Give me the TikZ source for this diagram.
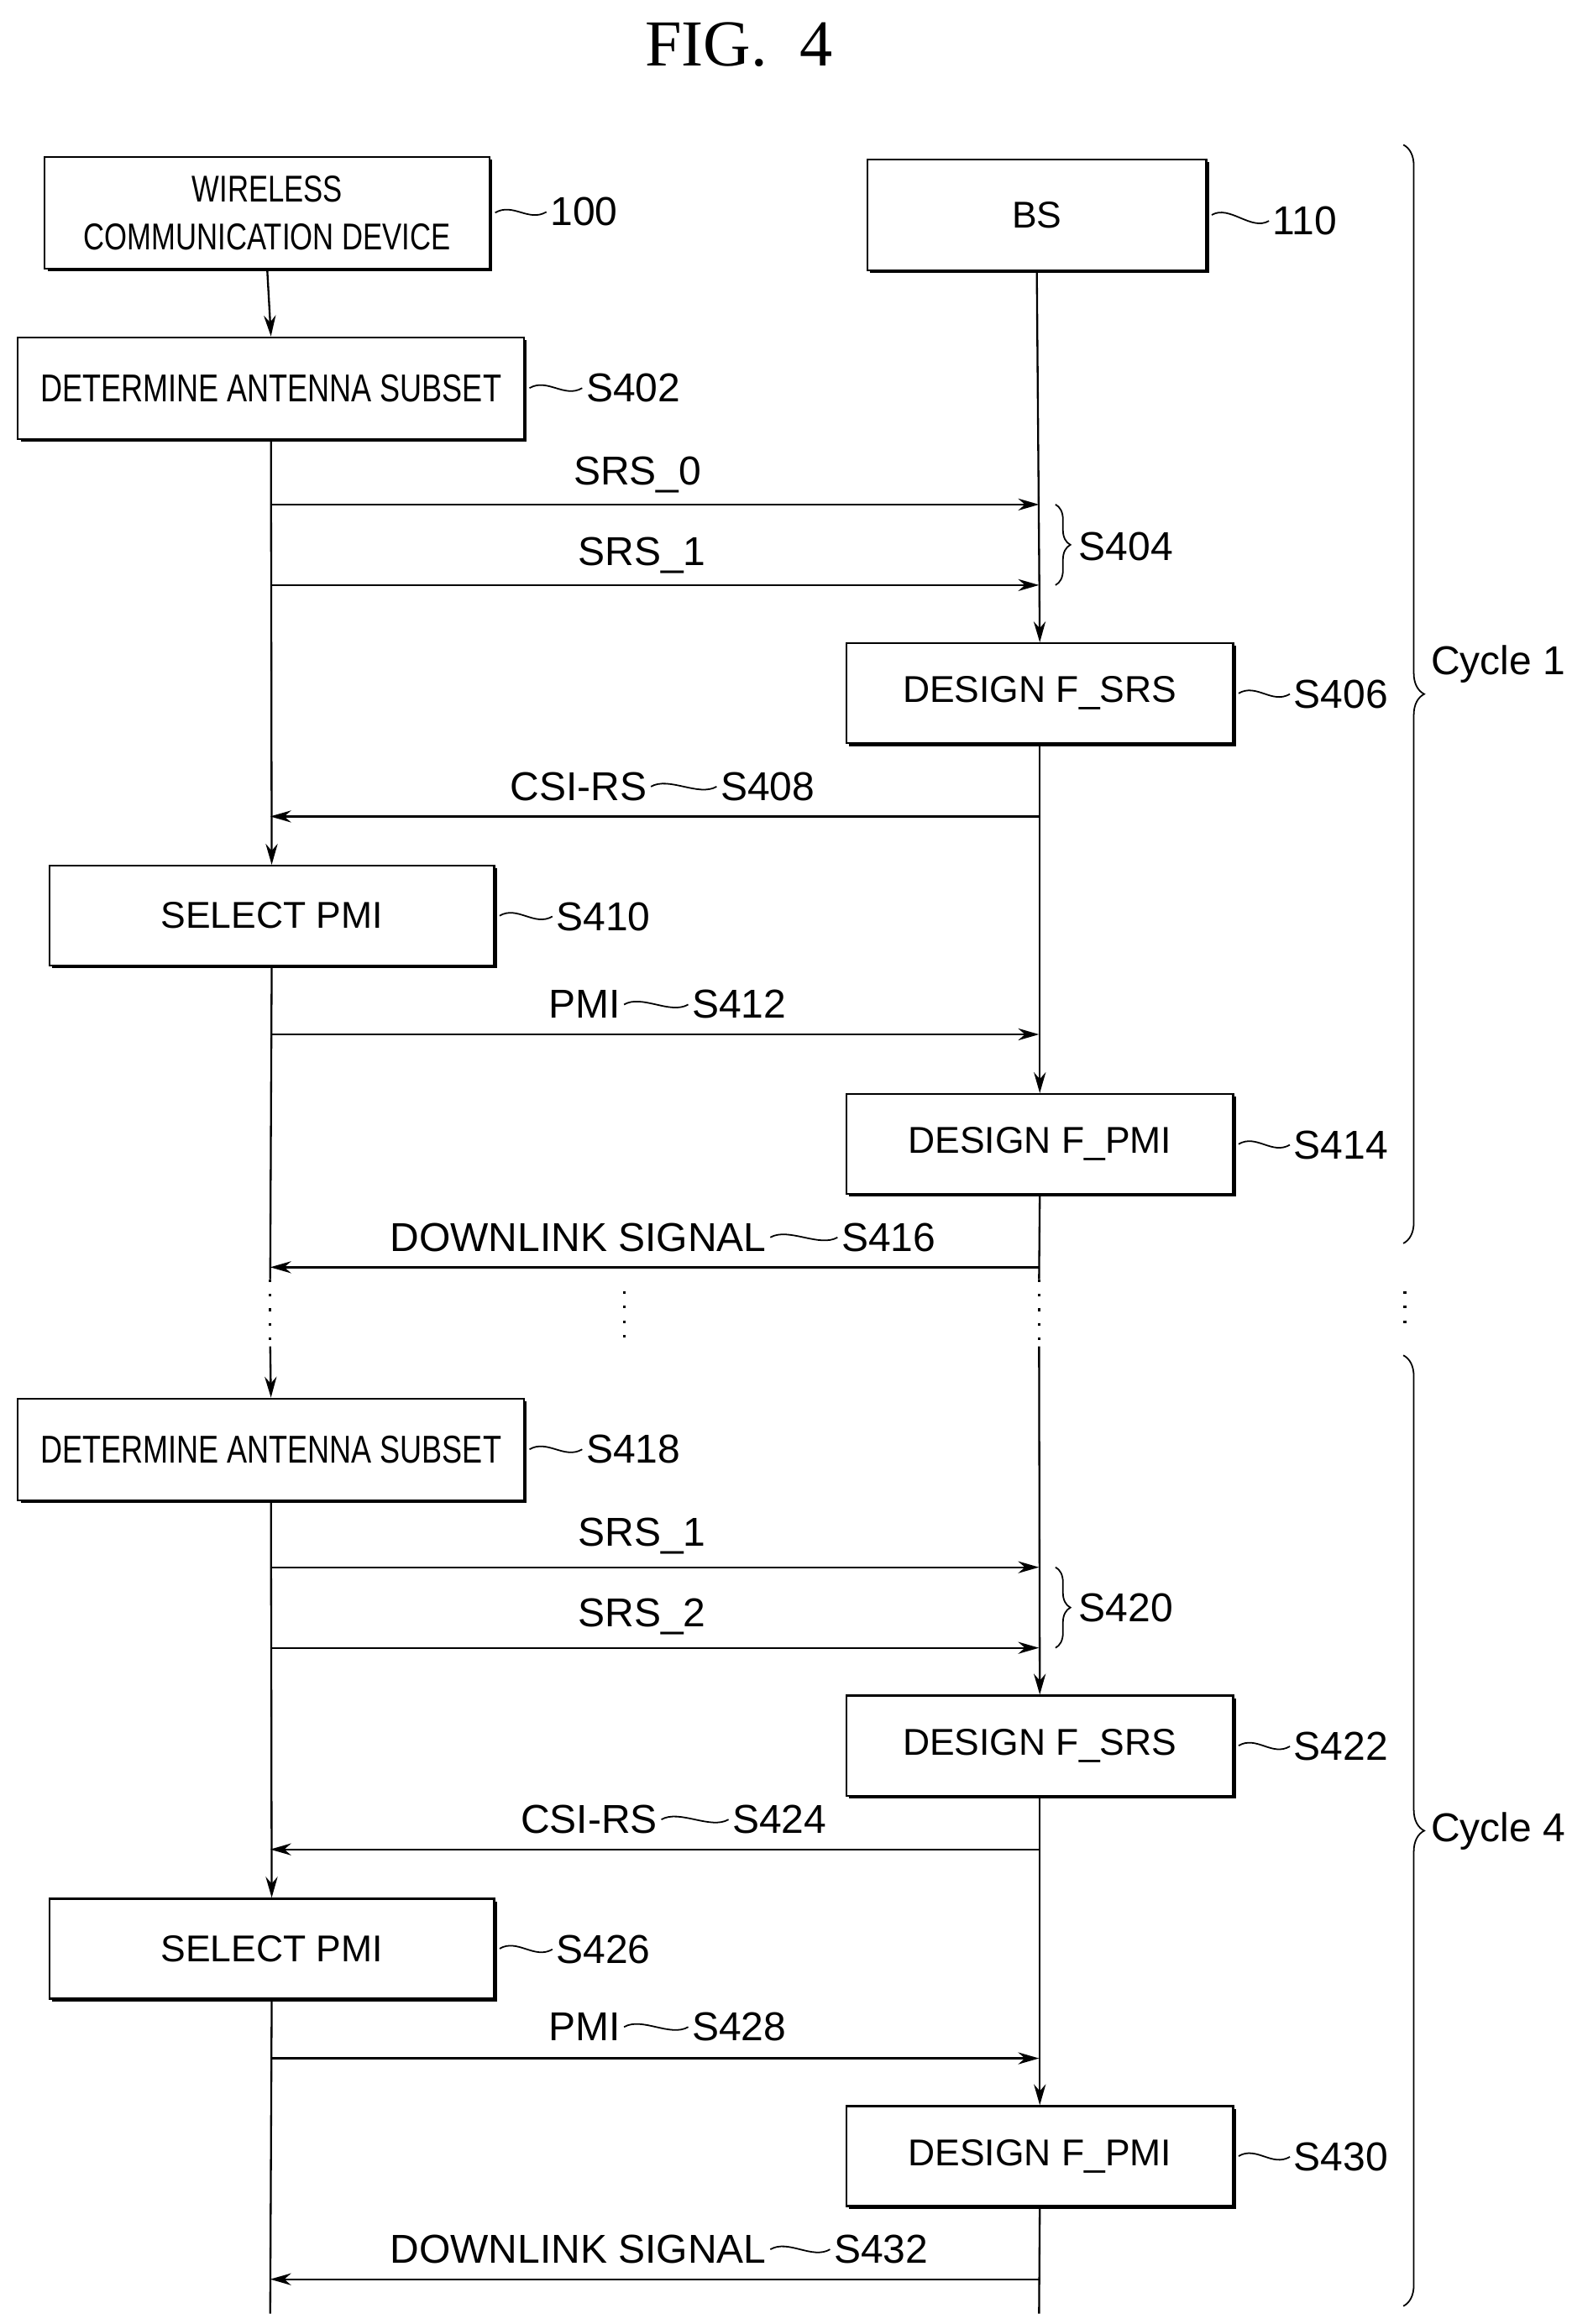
\documentclass[tikz,border=0pt]{standalone}
\usepackage{fontspec}
\setmainfont{Liberation Sans}
\newfontfamily\narrowf{Liberation Sans}[FakeStretch=0.78]
\newfontfamily\titlef{Liberation Serif}
\usetikzlibrary{arrows.meta,shadows,decorations.pathreplacing}
\begin{document}
\begin{tikzpicture}[x=0.5pt,y=-0.5pt,line width=0.65pt,
  box/.style={draw,fill=white,inner sep=0pt,font=\fontsize{12.5}{14}\selectfont,
    drop shadow={shadow xshift=0.9pt,shadow yshift=-0.9pt,fill=black,opacity=1}},
  nbox/.style={box,font=\narrowf\fontsize{13}{15}\selectfont,align=center},
  lbl/.style={font=\fontsize{13.5}{15}\selectfont,inner sep=1pt},
  msg/.style={-{Stealth[length=7pt,width=4pt]}},
  wave/.style={line width=0.5pt,to path={.. controls +(12,-7) and +(-12,7) .. (\tikztotarget)}},
  dots/.style={line width=0.9pt,dash pattern=on 0.9pt off 4pt},
  br/.style={decorate,decoration={brace,amplitude=#1}}]
\useasboundingbox (0,0) rectangle (1053,1557);
\node[font=\titlef\fontsize{22}{24}\selectfont] (title) at (495,30) {FIG.\ \ 4};
% boxes
\node[nbox,minimum width=149pt,minimum height=37.5pt,font=\narrowf\fontsize{12.5}{16}\selectfont] (wcd) at (179,142.5) {WIRELESS\\COMMUNICATION DEVICE};
\node[box,minimum width=113.5pt,minimum height=37pt] (bs) at (694.5,144) {BS};
\node[nbox,minimum width=169.5pt,minimum height=34pt] (das) at (181.5,260) {DETERMINE ANTENNA SUBSET};
\node[box,minimum width=129.5pt,minimum height=33.5pt] (fsrs) at (696.5,464.5) {DESIGN F\_SRS};
\node[box,minimum width=149pt,minimum height=33.5pt] (spmi) at (182,613.5) {SELECT PMI};
\node[box,minimum width=129.5pt,minimum height=33.5pt] (fpmi) at (696.5,766.5) {DESIGN F\_PMI};
\node[nbox,minimum width=169.5pt,minimum height=34pt] (das2) at (181.5,971) {DETERMINE ANTENNA SUBSET};
\node[box,minimum width=129.5pt,minimum height=33.5pt] (fsrs2) at (696.5,1169.5) {DESIGN F\_SRS};
\node[box,minimum width=149pt,minimum height=33.5pt] (spmi2) at (182,1305.5) {SELECT PMI};
\node[box,minimum width=129.5pt,minimum height=33.5pt] (fpmi2) at (696.5,1444.5) {DESIGN F\_PMI};
% reference labels
\node[lbl,anchor=west] (l100) at (366,142) {100};
\node[lbl,anchor=west] (l110) at (850,148) {110};
\node[lbl,anchor=west] (l402) at (390,260) {S402};
\node[lbl,anchor=west] (l406) at (864,465) {S406};
\node[lbl,anchor=west] (l410) at (370,614) {S410};
\node[lbl,anchor=west] (l414) at (864,767) {S414};
\node[lbl,anchor=west] (l418) at (390,971) {S418};
\node[lbl,anchor=west] (l422) at (864,1170) {S422};
\node[lbl,anchor=west] (l426) at (370,1306) {S426};
\node[lbl,anchor=west] (l430) at (864,1445) {S430};
\foreach \b/\l in {wcd/l100,bs/l110,das/l402,fsrs/l406,spmi/l410,fpmi/l414,das2/l418,fsrs2/l422,spmi2/l426,fpmi2/l430}
  \draw[wave] ([xshift=1.5pt]\b.east) to (\l.west);
% lifeline coordinates
\foreach \n/\y in {a/338,b/392,c/547,d/693,e/849,f/1050,g/1104,h/1239,i/1379,j/1527}{
  \coordinate (L\n) at (181,\y); \coordinate (R\n) at (696,\y);}
\coordinate (Lend) at (181,1550); \coordinate (Rend) at (696,1550);
\coordinate (Ls) at (181,857); \coordinate (Lt) at (181,898); \coordinate (Lu) at (181,902);
\coordinate (Rs) at (696,857); \coordinate (Rt) at (696,898); \coordinate (Ru) at (696,902);
% lifelines
\draw[msg] (wcd.south) -- (das.north);
\draw[msg] (das.south) -- (spmi.north);
\draw (spmi.south) -- (Ls);
\draw[dots] (Ls) -- (Lt);
\draw[msg] (Lu) -- (das2.north);
\draw[msg] (das2.south) -- (spmi2.north);
\draw (spmi2.south) -- (Lend);
\draw[msg] (bs.south) -- (fsrs.north);
\draw[msg] (fsrs.south) -- (fpmi.north);
\draw (fpmi.south) -- (Rs);
\draw[dots] (Rs) -- (Rt);
\draw[msg] (Ru) -- (fsrs2.north);
\draw[msg] (fsrs2.south) -- (fpmi2.north);
\draw (fpmi2.south) -- (Rend);
\coordinate (Ma) at (418,865); \coordinate (Mb) at (418,897);
\draw[dots] (Ma) -- (Mb);
\coordinate (Ca) at (941,865); \coordinate (Cb) at (941,893);
\draw[dots] (Ca) -- (Cb);
% messages
\draw[msg] (La) -- (Ra); \draw[msg] (Lb) -- (Rb);
\draw[msg] (Rc) -- (Lc); \draw[msg] (Ld) -- (Rd); \draw[msg] (Re) -- (Le);
\draw[msg] (Lf) -- (Rf); \draw[msg] (Lg) -- (Rg);
\draw[msg] (Rh) -- (Lh); \draw[msg] (Li) -- (Ri); \draw[msg] (Rj) -- (Lj);
\node[lbl] (srs0) at (427,318) {SRS\_0};
\node[lbl] (srs1) at (430,372) {SRS\_1};
\node[lbl] (srs1b) at (430,1029) {SRS\_1};
\node[lbl] (srs2) at (430,1083) {SRS\_2};
\node[lbl,anchor=east] (csi) at (436,527) {CSI-RS};
\node[lbl,anchor=west] (l408) at (480,527) {S408};
\node[lbl,anchor=east] (pmi) at (418,673) {PMI};
\node[lbl,anchor=west] (l412) at (461,673) {S412};
\node[lbl,anchor=east] (dl) at (516,829) {DOWNLINK SIGNAL};
\node[lbl,anchor=west] (l416) at (561,829) {S416};
\node[lbl,anchor=east] (csi2) at (443,1219) {CSI-RS};
\node[lbl,anchor=west] (l424) at (488,1219) {S424};
\node[lbl,anchor=east] (pmi2) at (418,1358) {PMI};
\node[lbl,anchor=west] (l428) at (461,1358) {S428};
\node[lbl,anchor=east] (dl2) at (516,1507) {DOWNLINK SIGNAL};
\node[lbl,anchor=west] (l432) at (556,1507) {S432};
\foreach \a/\b in {csi/l408,pmi/l412,dl/l416,csi2/l424,pmi2/l428,dl2/l432}
  \draw[wave] (\a.east) to (\b.west);
% braces
\coordinate (B1a) at (707,338); \coordinate (B1b) at (707,392);
\draw[br=5pt,line width=0.5pt] (B1a) -- (B1b);
\node[lbl,anchor=west] (l404) at (720,366) {S404};
\coordinate (B2a) at (707,1050); \coordinate (B2b) at (707,1104);
\draw[br=5pt,line width=0.5pt] (B2a) -- (B2b);
\node[lbl,anchor=west] (l420) at (720,1077) {S420};
\coordinate (C1a) at (940,97); \coordinate (C1b) at (940,833);
\draw[br=7pt,line width=0.5pt] (C1a) -- (C1b);
\node[lbl,anchor=west] (cy1) at (956,445) {Cycle 1};
\coordinate (C4a) at (940,908); \coordinate (C4b) at (940,1545);
\draw[br=7pt,line width=0.5pt] (C4a) -- (C4b);
\node[lbl,anchor=west] (cy4) at (956,1227) {Cycle 4};
\end{tikzpicture}
\end{document}
